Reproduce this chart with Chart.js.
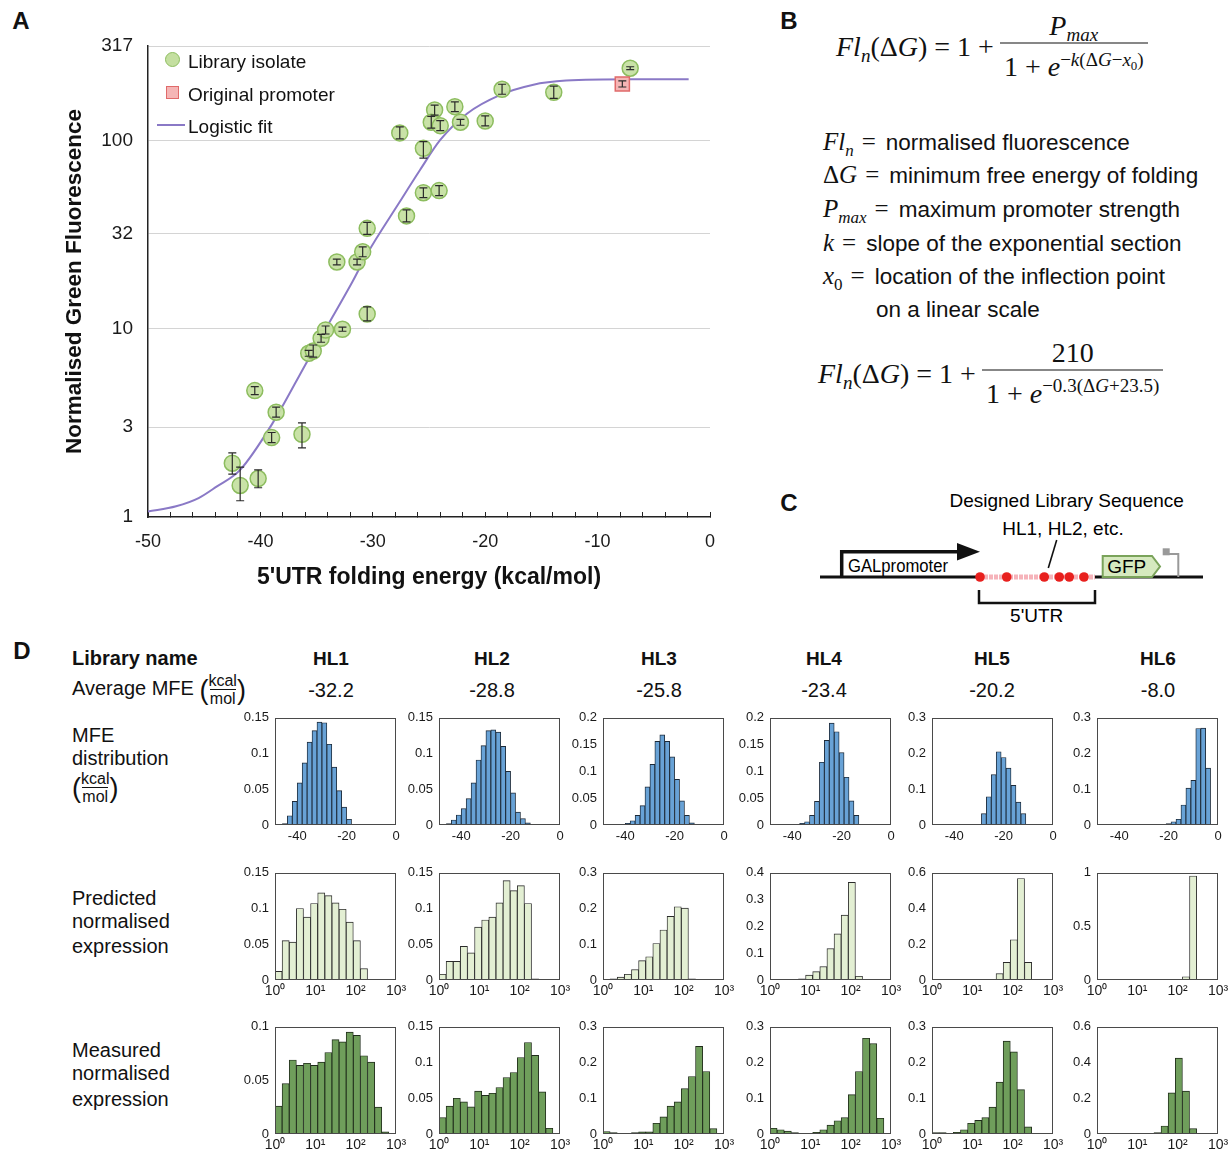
<!DOCTYPE html>
<html>
<head>
<meta charset="utf-8">
<title>5'UTR folding energy and expression</title>
<script src="https://cdn.jsdelivr.net/npm/chart.js@4.4.1/dist/chart.umd.min.js"></script>
<style>
  html, body { margin: 0; padding: 0; background: #fff; }
  #page { position: relative; width: 1232px; height: 1157px; overflow: hidden;
          font-family: 'Liberation Sans', Arial, sans-serif; color: #111; }
  #page canvas { position: absolute; }
  .abs { position: absolute; white-space: nowrap; line-height: 1; }
  .vc { transform: translateY(-50%); }
  .cc { transform: translate(-50%, -50%); }
  .panel { font-weight: bold; font-size: 24px; }
  .leg { font-size: 19px; }
  .eq { font-family: 'Liberation Serif', 'DejaVu Serif', serif; font-size: 28px;
        display: flex; align-items: center; }
  .frac { display: inline-flex; flex-direction: column; align-items: center; margin-left: 6px; }
  .frac > span:first-child { padding: 0 4px 3px; }
  .frac > span:last-child { border-top: 1.3px solid #111; padding: 9px 4px 0; align-self: stretch; text-align: center; }
  sub, sup { font-size: 68%; line-height: 0; }
  .def { font-size: 22.5px; }
  .m { font-family: 'Liberation Serif', 'DejaVu Serif', serif; font-size: 25px; }
  .m .eqs { margin: 0 10px 0 8px; }
  .dh { font-size: 20px; }
  .rl { font-size: 20px; }
  .sfrac { display: inline-flex; flex-direction: column; align-items: center; font-size: 16px; vertical-align: middle; }
  .sfrac > span:last-child { border-top: 1.3px solid #111; padding-top: 1px; }
  .paren { font-size: 27px; vertical-align: middle; }
</style>
</head>
<body>
<div id="page">
  <!-- panel letters -->
  <div class="abs panel cc" style="left:21px;top:21px;">A</div>
  <div class="abs panel cc" style="left:789px;top:21px;">B</div>
  <div class="abs panel cc" style="left:789px;top:503px;">C</div>
  <div class="abs panel cc" style="left:22px;top:651px;">D</div>

  <canvas id="chartA" width="740" height="600" style="left:0;top:0;"></canvas>

  <!-- legend of panel A -->
  <div class="abs" style="left:165px;top:52px;width:15px;height:15px;border-radius:50%;background:#c4dfa0;border:1.5px solid #8dbd5f;box-sizing:border-box;"></div>
  <div class="abs" style="left:166px;top:86px;width:13px;height:13px;background:#f5b5b5;border:1.5px solid #e06a6a;box-sizing:border-box;"></div>
  <div class="abs" style="left:157px;top:124px;width:28px;height:2px;background:#8a79c6;"></div>
  <div class="abs leg vc" style="left:188px;top:61px;">Library isolate</div>
  <div class="abs leg vc" style="left:188px;top:94px;">Original promoter</div>
  <div class="abs leg vc" style="left:188px;top:126px;">Logistic fit</div>

  <!-- panel B -->
  <div class="abs eq vc" style="left:836px;top:46px;">
    <span><i>Fl</i><sub><i>n</i></sub>(Δ<i>G</i>) = 1 + </span>
    <span class="frac"><span><i>P</i><sub><i>max</i></sub></span><span>1 + <i>e</i><sup>−<i>k</i>(Δ<i>G</i>−<i>x</i><sub>0</sub>)</sup></span></span>
  </div>
  <div class="abs def vc" style="left:823px;top:142px;"><span class="m"><i>Fl</i><sub><i>n</i></sub><span class="eqs">=</span></span>normalised fluorescence</div>
  <div class="abs def vc" style="left:823px;top:175px;"><span class="m">Δ<i>G</i><span class="eqs">=</span></span>minimum free energy of folding</div>
  <div class="abs def vc" style="left:823px;top:209px;"><span class="m"><i>P</i><sub><i>max</i></sub><span class="eqs">=</span></span>maximum promoter strength</div>
  <div class="abs def vc" style="left:823px;top:243px;"><span class="m"><i>k</i><span class="eqs">=</span></span>slope of the exponential section</div>
  <div class="abs def vc" style="left:823px;top:276px;"><span class="m"><i>x</i><sub>0</sub><span class="eqs">=</span></span>location of the inflection point</div>
  <div class="abs def vc" style="left:876px;top:310px;">on a linear scale</div>
  <div class="abs eq vc" style="left:818px;top:373px;">
    <span><i>Fl</i><sub><i>n</i></sub>(Δ<i>G</i>) = 1 + </span>
    <span class="frac"><span>210</span><span>1 + <i>e</i><sup>−0.3(Δ<i>G</i>+23.5)</sup></span></span>
  </div>

  <!-- panel C -->
  <svg class="abs" style="left:780px;top:480px;" width="452" height="150" viewBox="0 0 452 150"
       font-family="'Liberation Sans', Arial, sans-serif">
    <text x="286.7" y="22" font-size="19" text-anchor="middle" dominant-baseline="middle">Designed Library Sequence</text>
    <text x="283" y="50" font-size="19" text-anchor="middle" dominant-baseline="middle">HL1, HL2, etc.</text>
    <line x1="276.7" y1="60" x2="268.3" y2="88" stroke="#111" stroke-width="1.6"/>
    <line x1="40" y1="97" x2="199" y2="97" stroke="#111" stroke-width="3"/>
    <line x1="315" y1="97" x2="423" y2="97" stroke="#111" stroke-width="3"/>
    <line x1="199" y1="97" x2="315" y2="97" stroke="#f6b3ba" stroke-width="5" stroke-dasharray="4 1"/>
    <path d="M61.7 97 V71.7 H180" fill="none" stroke="#111" stroke-width="3.5"/>
    <path d="M177 63 L200 71.7 L177 80.5 Z" fill="#111"/>
    <text x="68" y="87" font-size="18" dominant-baseline="middle" textLength="100" lengthAdjust="spacingAndGlyphs">GALpromoter</text>
    <circle cx="200" cy="97" r="4.8" fill="#e8201e"/>
    <circle cx="226.7" cy="97" r="4.8" fill="#e8201e"/>
    <circle cx="264.3" cy="97" r="4.8" fill="#e8201e"/>
    <circle cx="279.3" cy="97" r="4.8" fill="#e8201e"/>
    <circle cx="289.3" cy="97" r="4.8" fill="#e8201e"/>
    <circle cx="304" cy="97" r="4.8" fill="#e8201e"/>
    <path d="M199 110 V123 H315 V110" fill="none" stroke="#111" stroke-width="2.5"/>
    <text x="256.7" y="137" font-size="19" text-anchor="middle" dominant-baseline="middle">5'UTR</text>
    <polygon points="322.7,76 372,76 380,86.5 372,97 322.7,97" fill="#d6e9bf" stroke="#7aa35a" stroke-width="2"/>
    <text x="346.7" y="87.5" font-size="19" text-anchor="middle" dominant-baseline="middle">GFP</text>
    <path d="M398.3 97 V74 H388" fill="none" stroke="#999" stroke-width="2"/>
    <rect x="382.7" y="68.3" width="7" height="7" fill="#999"/>
  </svg>

  <!-- panel D headers -->
  <div class="abs vc" style="left:72px;top:658px;font-weight:bold;font-size:20px;">Library name</div>
  <div class="abs vc dh" style="left:72px;top:690px;">Average MFE <span class="paren">(</span><span class="sfrac"><span>kcal</span><span>mol</span></span><span class="paren">)</span></div>
  <div class="abs vc rl" style="left:72px;top:735px;">MFE</div>
  <div class="abs vc rl" style="left:72px;top:758px;">distribution</div>
  <div class="abs vc rl" style="left:72px;top:788px;"><span class="paren">(</span><span class="sfrac"><span>kcal</span><span>mol</span></span><span class="paren">)</span></div>
  <div class="abs vc rl" style="left:72px;top:898px;">Predicted</div>
  <div class="abs vc rl" style="left:72px;top:921px;">normalised</div>
  <div class="abs vc rl" style="left:72px;top:946px;">expression</div>
  <div class="abs vc rl" style="left:72px;top:1050px;">Measured</div>
  <div class="abs vc rl" style="left:72px;top:1073px;">normalised</div>
  <div class="abs vc rl" style="left:72px;top:1099px;">expression</div>
</div>

<script>
// ---------- Panel A: library isolates ----------
const isolateX = [-42.5, -41.8, -40.2, -40.5, -38.6, -39.0, -36.3, -35.7, -35.3, -34.6, -34.2, -32.7, -30.5,
                  -33.2, -31.4, -30.9, -30.5, -27.0, -25.5, -24.1, -27.6, -25.5, -24.5, -24.8, -24.0, -22.7,
                  -22.2, -20.0, -18.5, -13.9, -7.1];
const isolateY = [1.93, 1.47, 1.60, 4.69, 3.60, 2.64, 2.75, 7.40, 7.61, 8.89, 9.84, 9.93, 11.97,
                  22.6, 22.6, 25.6, 34.1, 39.7, 52.7, 54.1, 109.5, 90.8, 145, 124.8, 119.7, 151,
                  124.8, 126.8, 186.8, 180, 241.6];
const isolateLow = [1.69, 1.22, 1.43, 4.47, 3.39, 2.48, 2.33, 7.14, 7.07, 8.47, 9.37, 9.69, 10.99,
                    21.8, 21.8, 24.1, 31.7, 36.9, 49.6, 50.9, 101.8, 80.4, 136, 116, 112.6, 142,
                    120.3, 119.3, 175.7, 167, 237.3];
const isolateHigh = [2.19, 1.84, 1.78, 4.92, 3.83, 2.81, 3.16, 7.67, 8.19, 9.33, 10.33, 10.18, 13.04,
                     23.4, 23.4, 27.2, 36.7, 42.7, 56.0, 57.5, 117.8, 98.4, 154, 134, 127.2, 160,
                     129.4, 134.8, 198.6, 194, 246];
const promoterX = [-7.8];
const promoterY = [199.3];
const promoterLow = [192];
const promoterHigh = [207];
// logistic fit
const fitX = [-50, -47.5, -45.5, -43.9, -41.8, -38.9, -35.9, -34.1, -31.8, -30.5, -27.6, -25.8, -24.0, -21.6, -18.7, -15.8, -12.8, -6.9, -1.9];
const fitY = [1.07, 1.14, 1.26, 1.45, 1.78, 3.16, 6.6, 10.2, 17.8, 25.0, 47.2, 69.6, 100.5, 139, 174, 197, 207.6, 211, 211];
const fluorTicks = [1, 3, 10, 32, 100, 317];

// ---------- Panel D ----------
const libraryNames = ['HL1', 'HL2', 'HL3', 'HL4', 'HL5', 'HL6'];
const averageMfe = [-32.2, -28.8, -25.8, -23.4, -20.2, -8.0];

// MFE distributions (bin centres, kcal/mol)
const mfeBinsHL1 = [-45, -43, -41, -39, -37, -35, -33, -31, -29, -27, -25, -23, -21, -19, -17];
const mfeHL1 = [0.002, 0.013, 0.033, 0.059, 0.087, 0.116, 0.132, 0.144, 0.143, 0.113, 0.081, 0.048, 0.025, 0.008, 0.001];
const mfeBinsHL2 = [-45, -43, -41, -39, -37, -35, -33, -31, -29, -27, -25, -23, -21, -19, -17, -15, -13];
const mfeHL2 = [0.002, 0.007, 0.014, 0.023, 0.037, 0.059, 0.091, 0.111, 0.132, 0.133, 0.130, 0.110, 0.075, 0.045, 0.018, 0.009, 0.003];
const mfeBinsHL3 = [-39, -37, -35, -33, -31, -29, -27, -25, -23, -21, -19, -17, -15, -13];
const mfeHL3 = [0.003, 0.008, 0.018, 0.036, 0.071, 0.113, 0.156, 0.168, 0.156, 0.127, 0.085, 0.045, 0.018, 0.004];
const mfeBinsHL4 = [-36, -34, -32, -30, -28, -26, -24, -22, -20, -18, -16, -14];
const mfeHL4 = [0.003, 0.006, 0.018, 0.044, 0.117, 0.158, 0.190, 0.174, 0.135, 0.089, 0.045, 0.018];
const mfeBinsHL5 = [-28, -26, -24, -22, -20, -18, -16, -14, -12];
const mfeHL5 = [0.032, 0.079, 0.141, 0.205, 0.189, 0.159, 0.111, 0.064, 0.032];
const mfeBinsHL6 = [-20, -18, -16, -14, -12, -10, -8, -6, -4];
const mfeHL6 = [0.004, 0.009, 0.016, 0.056, 0.103, 0.125, 0.270, 0.271, 0.159];
const mfeTicks = [-40, -20, 0];

// expression histograms share 17 log bins between 10^0 and 10^3 (bin centres)
const exprBins = [1.225, 1.839, 2.762, 4.146, 6.225, 9.346, 14.03, 21.06, 31.62, 47.47, 71.27, 107.0, 160.6, 241.2, 362.1, 543.6, 816.1];
const exprTicks = [1, 10, 100, 1000];
const exprTickLabels = ['10⁰', '10¹', '10²', '10³'];

const predHL1 = [0.012, 0.055, 0.053, 0.100, 0.088, 0.107, 0.122, 0.118, 0.108, 0.099, 0.081, 0.055, 0.016, 0.001, 0, 0, 0];
const predHL2 = [0.008, 0.026, 0.026, 0.047, 0.038, 0.074, 0.084, 0.088, 0.108, 0.139, 0.125, 0.132, 0.107, 0.0015, 0, 0, 0];
const predHL3 = [0.001, 0.003, 0.008, 0.016, 0.029, 0.054, 0.065, 0.102, 0.140, 0.178, 0.205, 0.201, 0.003, 0, 0, 0, 0];
const predHL4 = [0, 0, 0, 0.002, 0.004, 0.018, 0.031, 0.050, 0.117, 0.172, 0.242, 0.364, 0.014, 0, 0, 0, 0];
const predHL5 = [0, 0, 0, 0, 0, 0, 0, 0, 0, 0.036, 0.099, 0.225, 0.568, 0.099, 0, 0, 0];
const predHL6 = [0, 0, 0, 0, 0, 0, 0, 0, 0, 0, 0, 0, 0.030, 0.970, 0, 0, 0];

const measHL1 = [0.026, 0.047, 0.069, 0.064, 0.066, 0.064, 0.067, 0.076, 0.088, 0.086, 0.095, 0.092, 0.073, 0.067, 0.025, 0.002, 0.0006];
const measHL2 = [0.023, 0.039, 0.050, 0.045, 0.038, 0.060, 0.054, 0.057, 0.065, 0.079, 0.086, 0.107, 0.128, 0.110, 0.059, 0.008, 0.001];
const measHL3 = [0.007, 0.004, 0.001, 0.002, 0.004, 0.006, 0.006, 0.030, 0.048, 0.078, 0.090, 0.127, 0.161, 0.245, 0.175, 0.015, 0];
const measHL4 = [0.016, 0.012, 0.008, 0.004, 0.001, 0.002, 0.005, 0.012, 0.025, 0.037, 0.046, 0.110, 0.175, 0.268, 0.253, 0.044, 0];
const measHL5 = [0.004, 0.004, 0.002, 0.005, 0.012, 0.030, 0.038, 0.046, 0.075, 0.145, 0.260, 0.230, 0.124, 0.020, 0.002, 0, 0];
const measHL6 = [0.002, 0, 0.001, 0, 0.001, 0.002, 0.001, 0.003, 0.008, 0.045, 0.230, 0.425, 0.240, 0.030, 0.002, 0, 0];

const mfeYTicks = [[0, 0.05, 0.1, 0.15], [0, 0.05, 0.1, 0.15], [0, 0.05, 0.1, 0.15, 0.2], [0, 0.05, 0.1, 0.15, 0.2], [0, 0.1, 0.2, 0.3], [0, 0.1, 0.2, 0.3]];
const predYTicks = [[0, 0.05, 0.1, 0.15], [0, 0.05, 0.1, 0.15], [0, 0.1, 0.2, 0.3], [0, 0.1, 0.2, 0.3, 0.4], [0, 0.2, 0.4, 0.6], [0, 0.5, 1]];
const measYTicks = [[0, 0.05, 0.1], [0, 0.05, 0.1, 0.15], [0, 0.1, 0.2, 0.3], [0, 0.1, 0.2, 0.3], [0, 0.1, 0.2, 0.3], [0, 0.2, 0.4, 0.6]];

// ---------- layout ----------
const FONT = "'Liberation Sans', Arial, sans-serif";
Chart.defaults.font.family = FONT;
Chart.defaults.color = '#1a1a1a';
const page = document.getElementById('page');

const boxLefts = [275, 439, 603, 770, 932, 1097];
const rowTops = [714, 869, 1023];
const headerX = [331, 492, 659, 824, 992, 1158];
const BOX_W = 121, BOX_H = 111;

libraryNames.forEach((name, i) => {
  const h = document.createElement('div');
  h.className = 'abs cc';
  h.style.cssText = `left:${headerX[i]}px;top:658px;font-weight:bold;font-size:19px;`;
  h.textContent = name;
  page.appendChild(h);
  const v = document.createElement('div');
  v.className = 'abs cc';
  v.style.cssText = `left:${headerX[i]}px;top:690px;font-size:20px;`;
  v.textContent = averageMfe[i].toFixed(1);
  page.appendChild(v);
});

// error bars for panel A, drawn through the chart's own scales
const errorBars = {
  id: 'errorBars',
  afterDatasetsDraw(chart) {
    const { ctx, scales: { x, y } } = chart;
    const sets = [[isolateX, isolateLow, isolateHigh], [promoterX, promoterLow, promoterHigh]];
    ctx.save();
    ctx.strokeStyle = '#2a2a2a';
    ctx.lineWidth = 1.2;
    sets.forEach(([xs, lo, hi]) => {
      xs.forEach((v, i) => {
        const px = x.getPixelForValue(v);
        const p1 = y.getPixelForValue(lo[i]);
        const p2 = y.getPixelForValue(hi[i]);
        ctx.beginPath();
        ctx.moveTo(px, p1); ctx.lineTo(px, p2);
        ctx.moveTo(px - 4, p1); ctx.lineTo(px + 4, p1);
        ctx.moveTo(px - 4, p2); ctx.lineTo(px + 4, p2);
        ctx.stroke();
      });
    });
    ctx.restore();
  }
};

new Chart(document.getElementById('chartA'), {
  type: 'scatter',
  data: {
    datasets: [
      {
        label: 'Logistic fit',
        data: fitX.map((x, i) => ({ x, y: fitY[i] })),
        showLine: true, borderColor: '#8a79c6', borderWidth: 2, pointRadius: 0,
        cubicInterpolationMode: 'monotone', order: 3
      },
      {
        label: 'Library isolate',
        data: isolateX.map((x, i) => ({ x, y: isolateY[i] })),
        pointRadius: 8, pointBackgroundColor: 'rgba(196,223,160,0.92)',
        pointBorderColor: '#8dbd5f', pointBorderWidth: 1.5, order: 2
      },
      {
        label: 'Original promoter',
        data: promoterX.map((x, i) => ({ x, y: promoterY[i] })),
        pointStyle: 'rect', pointRadius: 10, pointBackgroundColor: '#f5b5b5',
        pointBorderColor: '#e06a6a', pointBorderWidth: 1.5, order: 1
      }
    ]
  },
  options: {
    responsive: false, animation: false, devicePixelRatio: 1,
    layout: { autoPadding: false, padding: { left: 60, top: 46, right: 30, bottom: 0 } },
    plugins: { legend: { display: false }, tooltip: { enabled: false } },
    scales: {
      x: {
        type: 'linear', min: -50, max: 0,
        ticks: {
          stepSize: 2, autoSkip: false, maxRotation: 0, padding: 19,
          font: { size: 18 }, color: '#1a1a1a',
          callback: v => (v % 10 === 0 ? String(v) : '')
        },
        grid: { drawOnChartArea: false, drawTicks: true, tickLength: -5, color: '#222' },
        border: { color: '#222', width: 1.5 },
        title: {
          display: true, text: "5'UTR folding energy (kcal/mol)",
          font: { size: 23, weight: 'bold' }, color: '#111', padding: { top: 0, bottom: 9 }
        },
        afterFit: s => { s.height = 83; }
      },
      y: {
        type: 'logarithmic', min: 1, max: 317,
        afterBuildTicks: s => { s.ticks = fluorTicks.map(v => ({ value: v })); },
        ticks: { padding: 15, font: { size: 19 }, color: '#1a1a1a', callback: v => String(v) },
        grid: { drawTicks: false, color: c => (c.tick && c.tick.value === 1 ? 'rgba(0,0,0,0)' : '#d4d4d4') },
        border: { color: '#222', width: 1.5 },
        title: {
          display: true, text: 'Normalised Green Fluorescence',
          font: { size: 22.5, weight: 'bold' }, color: '#111', padding: { top: 1, bottom: 0 }
        },
        afterFit: s => { s.width = 88; }
      }
    }
  },
  plugins: [errorBars]
});

// ---------- histograms ----------
const frame = {
  id: 'frame',
  afterDatasetsDraw(chart) {
    const { ctx, chartArea: a } = chart;
    ctx.save();
    ctx.strokeStyle = '#4a4a4a';
    ctx.lineWidth = 1;
    ctx.strokeRect(Math.round(a.left) + 0.5, Math.round(a.top) + 0.5, Math.round(a.width) - 1, Math.round(a.height) - 1);
    ctx.restore();
  }
};

function histogram(row, col, bins, values, yTicks, fill, edge, logX) {
  const padL = 40, padT = 10, padR = 16, padB = 24;
  const cv = document.createElement('canvas');
  cv.width = padL + BOX_W + padR;
  cv.height = padT + BOX_H + padB;
  cv.style.left = (boxLefts[col] - padL) + 'px';
  cv.style.top = (rowTops[row] - padT) + 'px';
  page.appendChild(cv);

  const tickFont = { size: 13 };
  const xScale = logX ? {
    type: 'logarithmic', min: 1, max: 1000, offset: false,
    afterBuildTicks: s => { s.ticks = exprTicks.map(v => ({ value: v })); },
    ticks: { padding: 3, font: { size: 14 }, color: '#1a1a1a', maxRotation: 0, autoSkip: false,
             callback: (v, i) => exprTickLabels[i] }
  } : {
    type: 'linear', min: -49, max: 0, offset: false,
    afterBuildTicks: s => { s.ticks = mfeTicks.map(v => ({ value: v })); },
    ticks: { padding: 4, font: tickFont, color: '#1a1a1a', maxRotation: 0, autoSkip: false }
  };
  Object.assign(xScale, {
    grid: { display: false, drawTicks: false },
    border: { display: false },
    afterFit: s => { s.height = padB; }
  });

  new Chart(cv, {
    type: 'bar',
    data: {
      datasets: [{
        data: bins.map((x, i) => ({ x, y: values[i] })),
        backgroundColor: fill, borderColor: edge, borderWidth: 0.9,
        barPercentage: 1, categoryPercentage: 1
      }]
    },
    options: {
      responsive: false, animation: false, devicePixelRatio: 1,
      layout: { autoPadding: false, padding: { left: 0, top: padT, right: padR, bottom: 0 } },
      plugins: { legend: { display: false }, tooltip: { enabled: false } },
      scales: {
        x: xScale,
        y: {
          min: 0, max: yTicks[yTicks.length - 1],
          afterBuildTicks: s => { s.ticks = yTicks.map(v => ({ value: v })); },
          ticks: { padding: 6, font: tickFont, color: '#1a1a1a', callback: v => String(v) },
          grid: { display: false, drawTicks: false },
          border: { display: false },
          afterFit: s => { s.width = padL; }
        }
      }
    },
    plugins: [frame]
  });
}

const mfeBins = [mfeBinsHL1, mfeBinsHL2, mfeBinsHL3, mfeBinsHL4, mfeBinsHL5, mfeBinsHL6];
const mfeValues = [mfeHL1, mfeHL2, mfeHL3, mfeHL4, mfeHL5, mfeHL6];
const predValues = [predHL1, predHL2, predHL3, predHL4, predHL5, predHL6];
const measValues = [measHL1, measHL2, measHL3, measHL4, measHL5, measHL6];

for (let c = 0; c < 6; c++) {
  histogram(0, c, mfeBins[c], mfeValues[c], mfeYTicks[c], '#68a2d6', '#1d2a38', false);
  histogram(1, c, exprBins, predValues[c], predYTicks[c], '#e3efd3', '#2a2a2a', true);
  histogram(2, c, exprBins, measValues[c], measYTicks[c], '#6f9e5b', '#1f2b1a', true);
}
</script>
</body>
</html>
